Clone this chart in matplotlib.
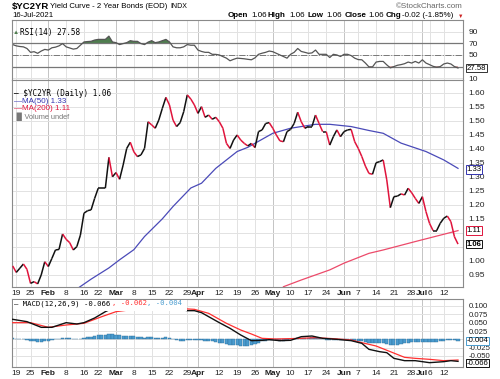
import matplotlib
matplotlib.use("Agg")
import matplotlib.pyplot as plt
import matplotlib.transforms as mtransforms
from matplotlib.collections import LineCollection
import numpy as np

# daily closes, 15-Jan-2021 .. 16-Jul-2021 (trading days)
close = [0.982, 0.959, 0.974, 0.989, 0.970, 0.920, 0.926, 0.918, 0.950, 0.997,
         0.980, 1.009, 1.039, 1.041, 1.096, 1.077, 1.065, 1.039, 1.051, 1.092,
         1.170, 1.179, 1.182, 1.223, 1.259, 1.259, 1.259, 1.369, 1.300, 1.315,
         1.291, 1.342, 1.401, 1.423, 1.389, 1.372, 1.378, 1.401, 1.496, 1.485,
         1.473, 1.502, 1.544, 1.583, 1.556, 1.502, 1.479, 1.493, 1.532, 1.592,
         1.577, 1.556, 1.526, 1.550, 1.512, 1.520, 1.505, 1.512, 1.496, 1.473,
         1.419, 1.401, 1.431, 1.449, 1.431, 1.419, 1.410, 1.419, 1.404, 1.461,
         1.467, 1.490, 1.493, 1.473, 1.449, 1.428, 1.425, 1.461, 1.469, 1.490,
         1.530, 1.496, 1.473, 1.479, 1.479, 1.520, 1.490, 1.461, 1.461, 1.413,
         1.443, 1.467, 1.443, 1.461, 1.467, 1.469, 1.425, 1.401, 1.372, 1.338,
         1.312, 1.309, 1.350, 1.354, 1.360, 1.289, 1.190, 1.229, 1.231, 1.239,
         1.235, 1.259, 1.243, 1.223, 1.205, 1.229, 1.176, 1.134, 1.108, 1.108,
         1.134, 1.152, 1.160, 1.140, 1.086, 1.060]

rsi = [67.8, 65.6, 64.5, 63.9, 61.1, 54.5, 55.6, 52.8, 56.7, 59.5,
       58.4, 62.3, 63.4, 65.6, 69.5, 63.9, 62.0, 60.0, 61.1, 66.7,
       72.3, 73.0, 73.4, 75.6, 76.7, 76.7, 76.7, 82.3, 72.3, 71.1,
       67.8, 69.5, 71.1, 74.5, 73.4, 73.4, 69.5, 67.8, 72.0, 74.5,
       71.1, 72.3, 74.5, 76.7, 72.3, 63.9, 62.3, 62.3, 63.9, 67.8,
       66.7, 66.7, 58.4, 56.0, 54.5, 54.5, 51.1, 51.0, 50.0, 47.2,
       44.5, 40.0, 42.5, 44.5, 44.0, 43.4, 42.5, 41.7, 45.0, 51.1,
       53.0, 54.5, 56.7, 55.6, 52.8, 50.0, 47.3, 44.5, 51.1, 54.5,
       61.1, 56.0, 54.5, 52.8, 53.5, 58.4, 51.1, 51.1, 51.1, 45.6,
       51.1, 50.0, 47.3, 51.1, 51.1, 48.9, 44.5, 42.0, 41.7, 36.1,
       29.5, 29.5, 37.8, 38.9, 38.9, 33.0, 27.8, 30.0, 32.3, 33.4,
       35.0, 37.8, 36.1, 38.9, 36.1, 41.7, 36.1, 33.4, 30.5, 28.9,
       30.0, 34.5, 36.1, 34.5, 30.0, 27.6]

ma50_idx = [18, 22, 27, 30, 34, 37, 42, 45, 50, 53, 57, 60, 63, 66, 73, 78,
            85, 89, 95, 100, 104, 109, 116, 121, 125]
ma50 = [0.900, 0.935, 0.975, 1.004, 1.040, 1.087, 1.150, 1.194, 1.260, 1.277,
        1.330, 1.360, 1.390, 1.405, 1.455, 1.473, 1.487, 1.487, 1.479, 1.465,
        1.455, 1.420, 1.390, 1.360, 1.330]

ma200_idx = [76, 81, 89, 93, 100, 104, 113, 125]
ma200 = [0.908, 0.932, 0.968, 0.992, 1.027, 1.039, 1.069, 1.108]

macd_idx = [0, 4, 8, 11, 15, 18, 20, 23, 26, 28, 31, 33, 37, 41, 44, 45, 47,
            49, 51, 53, 55, 58, 61, 64, 67, 70, 72, 75, 78, 81, 84, 87, 91,
            95, 98, 100, 103, 105, 107, 110, 113, 117, 121, 123, 125]
macd = [0.060, 0.053, 0.036, 0.036, 0.050, 0.046, 0.050, 0.064, 0.083, 0.093,
        0.093, 0.098, 0.105, 0.108, 0.104, 0.099, 0.090, 0.086, 0.086, 0.080,
        0.068, 0.050, 0.033, 0.013, -0.004, -0.003, -0.001, -0.004, -0.003,
        0.008, 0.010, 0.003, 0.000, -0.004, -0.012, -0.030, -0.037, -0.040,
        -0.057, -0.064, -0.064, -0.070, -0.067, -0.064, -0.066]

signal_idx = [0, 5, 10, 15, 20, 25, 29, 34, 41, 43, 46, 51, 55, 60, 64, 67,
              70, 74, 81, 85, 90, 95, 98, 102, 106, 110, 113, 117, 121, 125]
signal = [0.050, 0.050, 0.036, 0.043, 0.048, 0.068, 0.083, 0.090, 0.098, 0.100,
          0.093, 0.090, 0.078, 0.048, 0.028, 0.016, 0.003, 0.001, 0.003, 0.005,
          0.002, -0.002, -0.010, -0.020, -0.037, -0.054, -0.057, -0.060,
          -0.064, -0.062]

hist = [0.003, 0.002, 0.001, 0.000, -0.002, -0.004, -0.006, -0.008, -0.008, -0.006,
        -0.004, -0.002, 0.000, 0.002, 0.003, 0.004, 0.003, 0.002, 0.001, 0.002,
        0.004, 0.006, 0.008, 0.010, 0.012, 0.013, 0.014, 0.016, 0.015, 0.014,
        0.012, 0.010, 0.010, 0.010, 0.009, 0.008, 0.006, 0.005, 0.006, 0.006,
        0.005, 0.005, 0.005, 0.006, 0.004, 0.002, -0.002, -0.004, -0.004, -0.003,
        -0.003, -0.002, -0.002, -0.003, -0.004, -0.005, -0.006, -0.008, -0.010, -0.012,
        -0.014, -0.016, -0.017, -0.018, -0.019, -0.020, -0.020, -0.018, -0.015, -0.010,
        -0.006, -0.004, -0.002, -0.002, -0.003, -0.004, -0.004, -0.003, 0.000, 0.002,
        0.004, 0.005, 0.005, 0.005, 0.006, 0.005, 0.003, 0.001, -0.001, -0.002,
        -0.001, -0.001, -0.001, -0.002, -0.002, -0.003, -0.004, -0.005, -0.006, -0.008,
        -0.010, -0.011, -0.012, -0.012, -0.012, -0.013, -0.016, -0.017, -0.016, -0.014,
        -0.012, -0.010, -0.009, -0.008, -0.008, -0.007, -0.008, -0.009, -0.009, -0.008,
        -0.006, -0.004, -0.002, -0.002, -0.003, -0.004]

tick_pos = [1, 5, 10, 15, 20, 24, 29, 34, 39, 44, 49, 52, 58, 63, 68, 73, 78,
            83, 88, 93, 97, 102, 107, 112, 115, 117, 121]
tick_lab = ["19", "25", "Feb", "8", "16", "22", "Mar", "8", "15", "22", "29",
            "Apr", "12", "19", "26", "May", "10", "17", "24", "Jun", "7", "14",
            "21", "28", "Jul", "6", "12"]
months = ["Feb", "Mar", "Apr", "May", "Jun", "Jul"]

W, H = 500, 379
plt.rcParams['font.family'] = ['Liberation Sans', 'DejaVu Sans']
fig = plt.figure(figsize=(W / 100, H / 100), dpi=100)
MONO = 'DejaVu Sans Mono'
FS = 5.8


def px_axes(x0, y0, x1, y1):
    return fig.add_axes([x0 / W, 1 - y1 / H, (x1 - x0) / W, (y1 - y0) / H])


def put(x, y, s, **kw):
    kw.setdefault('va', 'center')
    kw.setdefault('fontsize', FS)
    return fig.text(x / W, 1 - y / H, s, **kw)


def base(ax, show_x):
    ax.set_xlim(-0.2, 126.4)
    for p, lab in zip(tick_pos, tick_lab):
        ax.axvline(p, color='#c4c4c4' if lab in months else '#e2e2e2',
                   lw=0.7, zorder=0)
    ax.set_xticks(tick_pos)
    if show_x:
        ax.set_xticklabels(tick_lab)
        for t in ax.get_xticklabels():
            if t.get_text() in months:
                t.set_fontweight('bold')
    else:
        ax.set_xticklabels([])
    ax.yaxis.tick_right()
    ax.tick_params(axis='both', length=0, labelsize=6, colors='#222222')
    ax.tick_params(axis='y', pad=4)
    ax.tick_params(axis='x', pad=2)
    for s in ax.spines.values():
        s.set_color('#8a8a8a')
        s.set_linewidth(0.8)


def tag(ax, val, txt, ec, fw='normal'):
    tr = mtransforms.blended_transform_factory(ax.transAxes, ax.transData)
    ax.text(1.008, val, txt, transform=tr, va='center', fontsize=5.6, fontweight=fw,
            bbox=dict(boxstyle='square,pad=0.08', fc='white', ec=ec, lw=0.7),
            zorder=10, clip_on=False)


x = np.arange(len(close))

# RSI panel
ax_r = px_axes(12, 20, 463, 80)
base(ax_r, False)
ax_r.set_ylim(7, 110)
ax_r.set_yticks([10, 50, 70, 90])
for lv in [10, 30, 50, 70, 90]:
    ax_r.axhline(lv, color='#e2e2e2', lw=0.7, zorder=0)
ax_r.axhline(70, color='#777777', lw=0.9)
ax_r.axhline(30, color='#777777', lw=0.9)
ax_r.axhline(50, color='#777777', lw=0.7, ls='-.')
rsi_a = np.array(rsi)
ax_r.fill_between(x, rsi_a, 70, where=rsi_a > 70, interpolate=True,
                  color='#4f7d4f', lw=0)
ax_r.fill_between(x, rsi_a, 30, where=rsi_a < 30, interpolate=True,
                  color='#b03030', lw=0)
ax_r.plot(x, rsi, color='#555555', lw=0.9)
tag(ax_r, rsi[-1], "27.58", '#333333')
put(13, 32.5, "\u25b2", color='#4f7d4f', fontsize=4.5)
put(20, 32.5, "RSI(14) 27.58", family=MONO, fontsize=5.6)

# price panel
ax_p = px_axes(12, 80, 463, 287)
base(ax_p, True)
ax_p.set_ylim(0.907, 1.645)
yt = np.round(np.arange(0.95, 1.601, 0.05), 2)
ax_p.set_yticks([v for v in yt if v not in (1.05, 1.10)])
ax_p.set_yticklabels([f"{v:.2f}" for v in yt if v not in (1.05, 1.10)])
for v in yt:
    ax_p.axhline(v, color='#e2e2e2', lw=0.7, zorder=0)
ax_p.plot(ma50_idx, ma50, color='#4a4ab8', lw=0.9, zorder=2)
ax_p.plot(ma200_idx, ma200, color='#ec4a6a', lw=0.9, zorder=2)
pts = np.column_stack([x, close])
segs = np.stack([pts[:-1], pts[1:]], axis=1)
cols = ['#111111' if close[i + 1] >= close[i] else '#e0143c' for i in range(len(close) - 1)]
ax_p.add_collection(LineCollection(segs, colors=cols, lw=1.1, zorder=3))
tag(ax_p, ma50[-1] - 0.004, "1.33", '#3434b0')
tag(ax_p, ma200[-1], "1.11", '#e0143c')
tag(ax_p, close[-1], "1.06", '#111111', 'bold')

put(14, 94, "\u2014 $YC2YR (Daily) 1.06", family=MONO, fontsize=5.6)
put(14, 101.5, "\u2014MA(50) 1.33", color='#3434b0')
put(14, 109, "\u2014MA(200) 1.11", color='#e0143c')
put(14, 116.5, "\u2590\u258cVolume undef", color='#777777', fontsize=5.3)

# MACD panel
ax_m = px_axes(12, 299, 463, 367)
base(ax_m, True)
ax_m.set_ylim(-0.083, 0.121)
mt = [0.100, 0.075, 0.050, 0.025, -0.025, -0.050]
ax_m.set_yticks(mt)
ax_m.set_yticklabels([f"{v:.3f}" for v in mt])
ax_m.tick_params(axis='y', labelsize=5.6)
for v in mt + [0.0]:
    ax_m.axhline(v, color='#e2e2e2', lw=0.7, zorder=0)
ax_m.bar(x, hist, width=0.9, color='#4a9ccf', edgecolor='#2f6f9c', lw=0.3, zorder=2)
ax_m.plot(signal_idx, signal, color='#ff3030', lw=0.9, zorder=3)
ax_m.plot(macd_idx, macd, color='#111111', lw=1.0, zorder=4)
tag(ax_m, hist[-1], "-0.004", '#4a9ccf')
tag(ax_m, macd[-1] - 0.006, "-0.066", '#111111')
ax_m.add_patch(plt.Rectangle((0.003, 0.83), 0.385, 0.16, transform=ax_m.transAxes,
                             fc='white', ec='none', zorder=5))
put(14, 303.5, "\u2014 MACD(12,26,9) -0.066", family=MONO, fontsize=5.2)
put(112, 303.5, ", -0.062", color='#ff3030', family=MONO, fontsize=5.2)
put(147, 303.5, ", -0.004", color='#4a9ccf', family=MONO, fontsize=5.2)

# header
put(12, 7, "$YC2YR", fontweight='bold', fontsize=6.8)
put(50, 7, "Yield Curve - 2 Year Bonds (EOD)", fontsize=5.6)
put(170, 7, "INDX", fontsize=5)
put(12, 15.5, "16-Jul-2021", fontsize=5.6)
put(463, 6, "\u00a9StockCharts.com", fontsize=5.8, color='#666666', ha='right')
for xx, s, fw in [(228, "Open", 'bold'), (251, "1.06", 'normal'),
                  (268, "High", 'bold'), (289, "1.06", 'normal'),
                  (307, "Low", 'bold'), (326, "1.06", 'normal'),
                  (345, "Close", 'bold'), (368, "1.06", 'normal'),
                  (386, "Chg", 'bold'), (402, "-0.02 (-1.85%)", 'normal')]:
    put(xx, 15.5, s, fontweight=fw, fontsize=5.8)
put(458, 16, "\u25bc", color='#cc2222', fontsize=4)

fig.savefig("out.png", dpi=100)
